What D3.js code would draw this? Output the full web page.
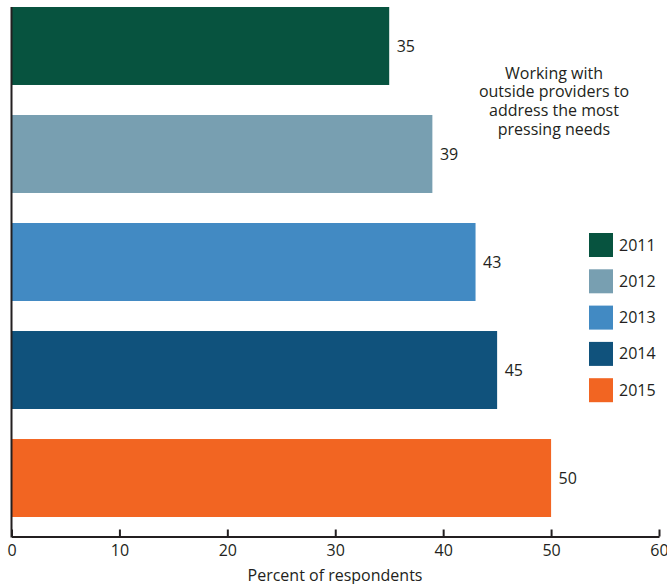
<!DOCTYPE html>
<html>
<head>
<meta charset="utf-8">
<script src="https://cdn.jsdelivr.net/npm/d3@7"></script>
<style>
  body { margin: 0; background: #fff; }
  svg text { font-family: "Open Sans", "Noto Sans", sans-serif; fill: #231f20; }
</style>
</head>
<body>
<svg id="chart" width="667" height="584"></svg>
<script>
// Survey results by year
const years = ["2011", "2012", "2013", "2014", "2015"];
const values = [35, 39, 43, 45, 50];
const colors = ["#07533f", "#789fb1", "#428ac3", "#10527c", "#f26522"];
const xTicks = [0, 10, 20, 30, 40, 50, 60];
const titleLines = ["Working with", "outside providers to", "address the most", "pressing needs"];
const xLabel = "Percent of respondents";

const svg = d3.select("#chart");
const fs = 16;

const x = d3.scaleLinear().domain([0, 60]).range([11.5, 659]);
const y = d3.scaleBand().domain(years).range([7, 517]).paddingInner(0.278).paddingOuter(0);
const color = d3.scaleOrdinal().domain(years).range(colors);
const axisY = 536.5;

const data = years.map((yr, i) => ({ year: yr, value: values[i] }));

// bars
svg.append("g").selectAll("rect")
  .data(data)
  .join("rect")
  .attr("x", x(0))
  .attr("y", d => y(d.year))
  .attr("width", d => x(d.value) - x(0))
  .attr("height", y.bandwidth())
  .attr("fill", d => color(d.year));

// value labels
svg.append("g").selectAll("text")
  .data(data)
  .join("text")
  .attr("x", d => x(d.value) + 7.5)
  .attr("y", d => y(d.year) + y.bandwidth() / 2)
  .attr("dy", "0.35em")
  .attr("font-size", fs)
  .text(d => d.value);

// x axis
const xAxis = d3.axisBottom(x).tickValues(xTicks).tickSize(-7).tickPadding(8).tickSizeOuter(0);
const gx = svg.append("g").attr("transform", `translate(0,${axisY})`).call(xAxis);
gx.select(".domain").attr("stroke", "#231f20").attr("stroke-width", 2);
gx.selectAll(".tick line").attr("stroke", "#231f20").attr("stroke-width", 2);
gx.selectAll(".tick text").attr("font-size", fs).attr("font-family", "\"Open Sans\", sans-serif").attr("fill", "#231f20");

// vertical baseline
svg.append("line")
  .attr("x1", x(0)).attr("x2", x(0))
  .attr("y1", 7).attr("y2", axisY + 1)
  .attr("stroke", "#231f20").attr("stroke-width", 2);

// axis title
svg.append("text")
  .attr("x", 335).attr("y", 575)
  .attr("dy", "0.35em")
  .attr("text-anchor", "middle")
  .attr("font-size", fs)
  .text(xLabel);

// annotation
svg.append("g").selectAll("text")
  .data(titleLines)
  .join("text")
  .attr("x", 554)
  .attr("y", (d, i) => 73 + i * 18.7)
  .attr("dy", "0.35em")
  .attr("text-anchor", "middle")
  .attr("font-size", fs)
  .text(d => d);

// legend
const legend = svg.append("g").selectAll("g")
  .data(years)
  .join("g")
  .attr("transform", (d, i) => `translate(589,${233 + i * 36.3})`);
legend.append("rect").attr("width", 24).attr("height", 24).attr("fill", d => color(d));
legend.append("text").attr("x", 30).attr("y", 12).attr("dy", "0.35em").attr("font-size", fs).text(d => d);
</script>
</body>
</html>
